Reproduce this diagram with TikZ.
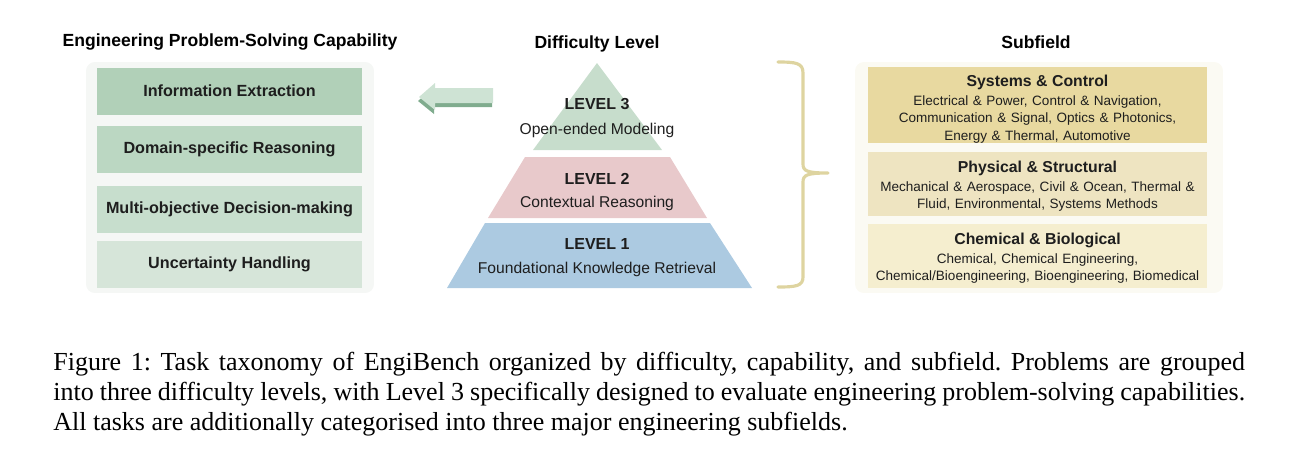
\documentclass[tikz,border=0pt]{standalone}
\usepackage{fontspec}
\setmainfont{Liberation Serif}
\setsansfont{Liberation Sans}
\usepackage{xcolor}
\usepackage{tikz}
\usetikzlibrary{
  positioning
}
\definecolor{InkDark}{RGB}{30, 30, 30}
\definecolor{PanelGray}{RGB}{245, 247, 245}
\definecolor{PanelCream}{RGB}{251, 250, 243}
\definecolor{CapGreenA}{RGB}{177, 208, 184}
\definecolor{CapGreenB}{RGB}{187, 215, 194}
\definecolor{CapGreenC}{RGB}{199, 222, 205}
\definecolor{CapGreenD}{RGB}{214, 229, 217}
\definecolor{LevelGreen}{RGB}{199, 221, 204}
\definecolor{LevelPink}{RGB}{232, 201, 203}
\definecolor{LevelBlue}{RGB}{172, 202, 225}
\definecolor{ArrowLight}{RGB}{206, 227, 212}
\definecolor{ArrowDark}{RGB}{128, 172, 142}
\definecolor{BraceGold}{RGB}{222, 212, 160}
\definecolor{FieldGoldA}{RGB}{232, 217, 160}
\definecolor{FieldGoldB}{RGB}{238, 228, 193}
\definecolor{FieldGoldC}{RGB}{245, 238, 207}
\tikzset{
  headline/.style={font=\sffamily\bfseries\fontsize{10}{12}\selectfont, text=black, inner sep=0pt},
  panelbox/.style={rectangle, rounded corners=5pt, inner sep=0pt},
  capbox/.style={rectangle, minimum width=5.3cm, minimum height=0.94cm, inner sep=0pt,
    font=\sffamily\bfseries\fontsize{9.2}{11}\selectfont, text=InkDark},
  lvtitle/.style={font=\sffamily\bfseries\fontsize{9.1}{11}\selectfont, text=InkDark, inner sep=0pt},
  lvtext/.style={font=\sffamily\fontsize{8.9}{11}\selectfont, text=InkDark, inner sep=0pt},
  fieldbox/.style={rectangle, minimum width=6.78cm, inner sep=0pt},
  fieldtext/.style={inner sep=0pt, text width=6.6cm, align=center,
    font=\sffamily\fontsize{7.7}{9.9}\selectfont, text=InkDark}
}
\newcommand{\fieldtitle}[1]{{\bfseries\fontsize{9}{11}\selectfont #1}}

\begin{document}
\begin{tikzpicture}[x=0.02cm, y=-0.02cm]
  \useasboundingbox (0,0) rectangle (1299,468);

  % capability column
  \node[headline] (captitle) at (230,42) {Engineering Problem-Solving Capability};
  \node[panelbox, fill=PanelGray, minimum width=5.76cm, minimum height=4.62cm] (cappanel) at (230,177.5) {};
  \node[capbox, fill=CapGreenA] (extract) at (229.5,91) {Information Extraction};
  \node[capbox, fill=CapGreenB] (domain) at (229.5,149) {Domain-specific Reasoning};
  \node[capbox, fill=CapGreenC] (decision) at (229.5,209) {Multi-objective Decision-making};
  \node[capbox, fill=CapGreenD] (uncert) at (229.5,264) {Uncertainty Handling};

  % arrow from level 3 to capabilities
  \fill[ArrowDark] (418,101) -- (434,87) -- (434,92) -- (492,92) -- (492,107) -- (434,107) -- (434,114) -- cycle;
  \fill[ArrowLight] (419,97) -- (435,83) -- (435,88) -- (493,88) -- (493,103) -- (435,103) -- (435,110) -- cycle;

  % difficulty pyramid
  \node[headline] (lvheader) at (597,44) {Difficulty Level};
  \fill[LevelGreen] (597,63) -- (662,150) -- (533,150) -- cycle;
  \fill[LevelPink] (525,157) -- (670,157) -- (707,218) -- (488,218) -- cycle;
  \fill[LevelBlue] (485,223) -- (710,223) -- (752,288) -- (447,288) -- cycle;
  \node[lvtitle] (lv3) at (597,104) {LEVEL 3};
  \node[lvtext] (lv3text) at (597,130) {Open-ended Modeling};
  \node[lvtitle] (lv2) at (597,179) {LEVEL 2};
  \node[lvtext] (lv2text) at (597,203) {Contextual Reasoning};
  \node[lvtitle] (lv1) at (597,244) {LEVEL 1};
  \node[lvtext] (lv1text) at (597,269) {Foundational Knowledge Retrieval};

  % brace
  \draw[BraceGold, line width=1.8pt, line join=round, line cap=round]
    (778,62) .. controls (796,62) and (803,63) .. (803,73) -- (803,164)
    .. controls (803,171) and (807,173) .. (828,173)
    .. controls (807,173) and (803,175) .. (803,182) -- (803,277)
    .. controls (803,286) and (796,287) .. (778,287);

  % subfield column
  \node[headline] (fieldtitle) at (1036,42) {Subfield};
  \node[panelbox, fill=PanelCream, minimum width=7.36cm, minimum height=4.62cm] (fieldpanel) at (1039,177.5) {};
  \node[fieldbox, fill=FieldGoldA, minimum height=1.52cm] (systems) at (1037.5,105) {};
  \node[fieldtext] (systemstext) at (1037.5,109) {
    \fieldtitle{Systems \& Control}\\[1pt]
    Electrical \& Power, Control \& Navigation,\\
    Communication \& Signal, Optics \& Photonics,\\
    Energy \& Thermal, Automotive};
  \node[fieldbox, fill=FieldGoldB, minimum height=1.28cm] (physical) at (1037.5,184) {};
  \node[fieldtext] (physicaltext) at (1037.5,186) {
    \fieldtitle{Physical \& Structural}\\[1pt]
    Mechanical \& Aerospace, Civil \& Ocean, Thermal \&\\
    Fluid, Environmental, Systems Methods};
  \node[fieldbox, fill=FieldGoldC, minimum height=1.28cm] (chemical) at (1037.5,256) {};
  \node[fieldtext] (chemicaltext) at (1037.5,258) {
    \fieldtitle{Chemical \& Biological}\\[1pt]
    Chemical, Chemical Engineering,\\
    Chemical/Bioengineering, Bioengineering, Biomedical};

  % caption
  \node[anchor=north west, inner sep=0pt, text width=23.84cm, align=justify,
    font=\fontsize{14.8}{17}\selectfont\frenchspacing] (caption) at (53,352) {
    Figure 1: Task taxonomy of EngiBench organized by difficulty, capability, and subfield. Problems are grouped\linebreak
    into three difficulty levels, with Level 3 specifically designed to evaluate engineering problem-solving capabilities.\linebreak
    All tasks are additionally categorised into three major engineering subfields.};
\end{tikzpicture}
\end{document}
